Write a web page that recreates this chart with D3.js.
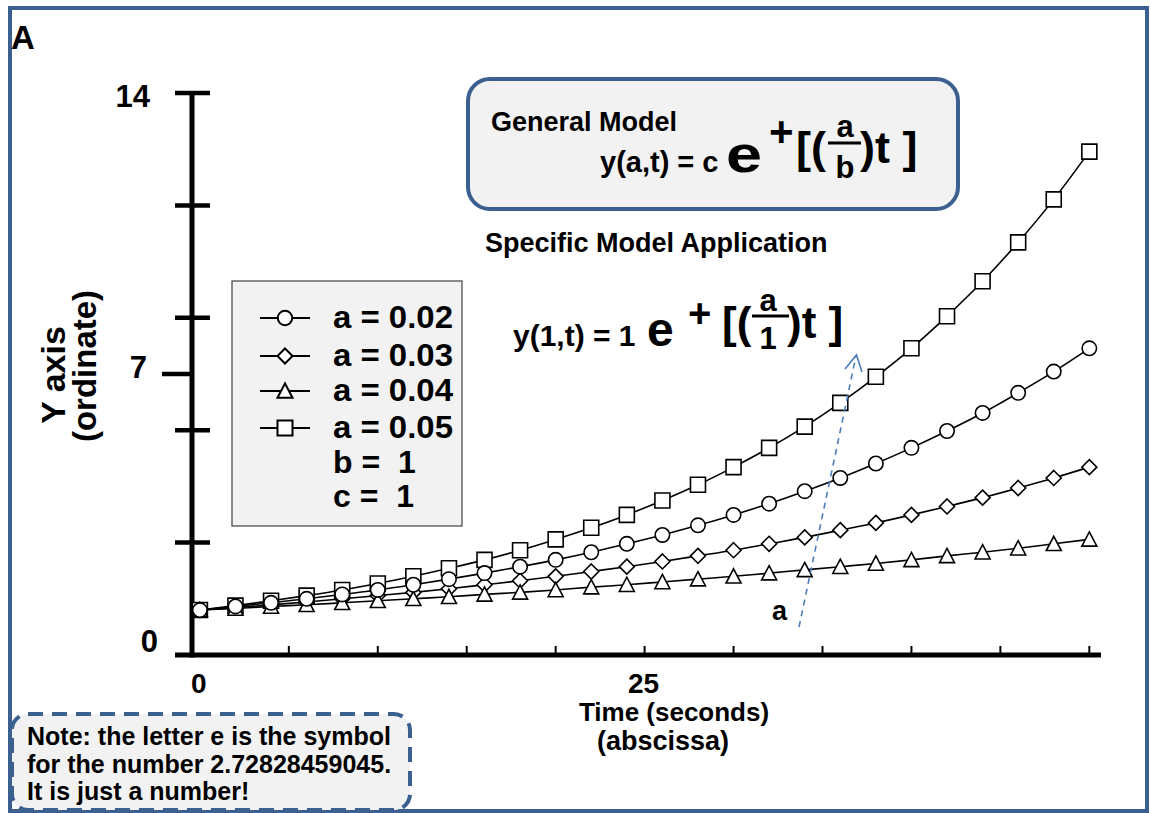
<!DOCTYPE html>
<html>
<head>
<meta charset="utf-8">
<script src="https://cdn.jsdelivr.net/npm/d3@7"></script>
<style>
  html, body { margin: 0; padding: 0; background: #fff; }
  svg { display: block; }
  text { font-family: Arial, "Liberation Sans", sans-serif; font-weight: bold; fill: #000; }
</style>
</head>
<body>
<svg id="chart" width="1151" height="813"></svg>
<script>
// ---------------- data ----------------
const timePoints = [0, 2, 4, 6, 8, 10, 12, 14, 16, 18, 20, 22, 24, 26, 28, 30, 32, 34, 36, 38, 40, 42, 44, 46, 48, 50];

const squareSeries = [1.12, 1.23, 1.35, 1.48, 1.62, 1.78, 1.96, 2.16, 2.37, 2.61, 2.88, 3.17, 3.49, 3.85, 4.24, 4.68, 5.16, 5.69, 6.28, 6.93, 7.64, 8.44, 9.31, 10.28, 11.35, 12.54];
const circleSeries = [1.12, 1.21, 1.30, 1.40, 1.51, 1.62, 1.75, 1.89, 2.04, 2.20, 2.37, 2.56, 2.77, 2.99, 3.23, 3.49, 3.77, 4.08, 4.41, 4.77, 5.16, 5.58, 6.03, 6.53, 7.06, 7.64];
const diamondSeries = [1.12, 1.18, 1.25, 1.32, 1.40, 1.48, 1.56, 1.65, 1.75, 1.85, 1.96, 2.08, 2.20, 2.33, 2.47, 2.61, 2.77, 2.93, 3.11, 3.29, 3.49, 3.70, 3.92, 4.16, 4.41, 4.68];
const triangleSeries = [1.12, 1.16, 1.21, 1.25, 1.30, 1.35, 1.40, 1.45, 1.51, 1.56, 1.62, 1.69, 1.75, 1.82, 1.89, 1.96, 2.04, 2.12, 2.20, 2.28, 2.37, 2.47, 2.56, 2.66, 2.77, 2.88];

const legendLabels = ["a = 0.02", "a = 0.03", "a = 0.04", "a = 0.05"];
const legendShapes = ["circle", "diamond", "triangle", "square"];
const legendExtra = ["b =\u00a0\u00a01", "c =\u00a0\u00a01"];

const yTickLabels = [0, 7, 14];
const yMajorTicks = [0, 2.8, 5.6, 8.4, 11.2, 14];
const xTickValues = [5, 10, 15, 20, 25, 30, 35, 40, 45, 50];
const xTickLabels = [0, 25];

const noteLines = ["Note: the letter e is the symbol", "for the number 2.72828459045.", "It is just a number!"];

// ---------------- setup ----------------
const svg = d3.select("#chart");
const blue = "#3b5f8f";

const x = d3.scaleLinear().domain([-0.5, 50.6]).range([191, 1100]);
const y = d3.scaleLinear().domain([0, 14]).range([655, 93]);

// outer frame
svg.append("rect").attr("x", 10).attr("y", 8).attr("width", 1137).attr("height", 803)
  .attr("fill", "none").attr("stroke", blue).attr("stroke-width", 4);

svg.append("text").attr("x", 11).attr("y", 49).attr("font-size", 33).text("A");

// marker path generator
function markerPath(shape, s) {
  const p = d3.path();
  if (shape === "circle") {
    p.moveTo(s, 0); p.arc(0, 0, s, 0, 2 * Math.PI);
  } else if (shape === "square") {
    p.rect(-s, -s, 2 * s, 2 * s);
  } else if (shape === "diamond") {
    p.moveTo(0, -s); p.lineTo(s, 0); p.lineTo(0, s); p.lineTo(-s, 0); p.closePath();
  } else if (shape === "triangle") {
    p.moveTo(0, -s); p.lineTo(s, s * 0.9); p.lineTo(-s, s * 0.9); p.closePath();
  }
  return p.toString();
}
const markerSize = { circle: 7.2, square: 7.5, diamond: 7.5, triangle: 7.5 };

// ---------------- axes ----------------
const axisG = svg.append("g");
axisG.selectAll(".xt").data(xTickValues).join("line")
  .attr("x1", d => x(d)).attr("x2", d => x(d))
  .attr("y1", y(0) - 9).attr("y2", y(0))
  .attr("stroke", "#000").attr("stroke-width", 2);
axisG.append("line").attr("x1", x(-0.5) + 1).attr("x2", x(-0.5) + 1)
  .attr("y1", y(14) - 2).attr("y2", y(0) + 2.5)
  .attr("stroke", "#000").attr("stroke-width", 5);
axisG.append("line").attr("x1", 175).attr("x2", x(50.6) + 1)
  .attr("y1", y(0)).attr("y2", y(0))
  .attr("stroke", "#000").attr("stroke-width", 5);
axisG.selectAll(".yt").data(yMajorTicks.filter(d => d > 0)).join("line")
  .attr("x1", 175).attr("x2", 210)
  .attr("y1", d => y(d)).attr("y2", d => y(d))
  .attr("stroke", "#000").attr("stroke-width", 4.5);
axisG.append("line").attr("x1", 162).attr("x2", 194)
  .attr("y1", y(7)).attr("y2", y(7))
  .attr("stroke", "#000").attr("stroke-width", 4.5);

const yLabelNudge = { 0: [8, -3], 7: [-3, 4], 14: [0, 14] };
axisG.selectAll(".yl").data(yTickLabels).join("text")
  .attr("x", d => 150 + yLabelNudge[d][0])
  .attr("y", d => y(d) + yLabelNudge[d][1])
  .attr("text-anchor", "end").attr("font-size", 31).text(d => d);

axisG.selectAll(".xl").data(xTickLabels).join("text")
  .attr("x", d => x(d) - 1).attr("y", 693)
  .attr("text-anchor", "middle").attr("font-size", 28).text(d => d);

svg.append("text").attr("x", 674).attr("y", 721).attr("text-anchor", "middle")
  .attr("font-size", 26).text("Time (seconds)");
svg.append("text").attr("x", 663).attr("y", 750).attr("text-anchor", "middle")
  .attr("font-size", 27).text("(abscissa)");

svg.append("text").attr("transform", "translate(65,375) rotate(-90)")
  .attr("text-anchor", "middle").attr("font-size", 34).text("Y axis");
svg.append("text").attr("transform", "translate(96,366) rotate(-90)")
  .attr("text-anchor", "middle").attr("font-size", 33).text("(ordinate)");

// ---------------- series ----------------
const seriesList = [
  { values: squareSeries, shape: "square" },
  { values: diamondSeries, shape: "diamond" },
  { values: triangleSeries, shape: "triangle" },
  { values: circleSeries, shape: "circle" }
];
const line = d3.line().x(d => x(d[0])).y(d => y(d[1])).curve(d3.curveMonotoneX);

seriesList.forEach(s => {
  const pts = timePoints.map((t, i) => [t, s.values[i]]);
  const g = svg.append("g");
  g.append("path").attr("d", line(pts)).attr("fill", "none")
    .attr("stroke", "#000").attr("stroke-width", 1.6);
  g.selectAll("path.m").data(pts).join("path").attr("class", "m")
    .attr("transform", d => `translate(${x(d[0])},${y(d[1])})`)
    .attr("d", markerPath(s.shape, markerSize[s.shape]))
    .attr("fill", "#fff").attr("stroke", "#000").attr("stroke-width", 1.6);
});

// ---------------- arrow "a" ----------------
svg.append("line").attr("x1", 799).attr("y1", 627).attr("x2", 856).attr("y2", 356)
  .attr("stroke", "#4a7ebb").attr("stroke-width", 1.6).attr("stroke-dasharray", "6,5");
svg.append("path").attr("d", "M845,369 L856.5,355 L862,372")
  .attr("fill", "none").attr("stroke", "#4a7ebb").attr("stroke-width", 1.6);
svg.append("text").attr("x", 772).attr("y", 620).attr("font-size", 27).text("a");

// ---------------- legend ----------------
const lg = svg.append("g");
lg.append("rect").attr("x", 232).attr("y", 281).attr("width", 230).attr("height", 245)
  .attr("fill", "#f2f2f2").attr("stroke", "#404040").attr("stroke-width", 1.2);
const rowY = [318, 356, 391, 428];
legendLabels.forEach((lab, i) => {
  lg.append("line").attr("x1", 260).attr("x2", 310).attr("y1", rowY[i]).attr("y2", rowY[i])
    .attr("stroke", "#000").attr("stroke-width", 2.2);
  lg.append("path").attr("transform", `translate(285,${rowY[i]})`)
    .attr("d", markerPath(legendShapes[i], markerSize[legendShapes[i]]))
    .attr("fill", "#fff").attr("stroke", "#000").attr("stroke-width", 2);
  lg.append("text").attr("x", 333).attr("y", rowY[i] + 10).attr("font-size", 32)
    .attr("textLength", 120).attr("lengthAdjust", "spacingAndGlyphs").text(lab);
});
legendExtra.forEach((lab, i) => {
  lg.append("text").attr("x", 333).attr("y", 473 + i * 34).attr("font-size", 32).text(lab);
});

// ---------------- general model box ----------------
const fb = svg.append("g");
fb.append("rect").attr("x", 468).attr("y", 79).attr("width", 490).attr("height", 130)
  .attr("rx", 22).attr("fill", "#f2f2f2").attr("stroke", blue).attr("stroke-width", 4);
fb.append("text").attr("x", 491).attr("y", 131).attr("font-size", 27).text("General Model");
fb.append("text").attr("x", 600).attr("y", 172).attr("font-size", 29).text("y(a,t) = c");
fb.append("text").attr("x", 726).attr("y", 172).attr("font-size", 52)
  .attr("textLength", 36).attr("lengthAdjust", "spacingAndGlyphs").text("e");
fb.append("text").attr("x", 769).attr("y", 146).attr("font-size", 42).text("+");
fb.append("text").attr("x", 796).attr("y", 163).attr("font-size", 45).text("[(");
fb.append("line").attr("x1", 828).attr("x2", 861).attr("y1", 143).attr("y2", 143)
  .attr("stroke", "#000").attr("stroke-width", 3);
fb.append("text").attr("x", 845).attr("y", 137).attr("text-anchor", "middle").attr("font-size", 31).text("a");
fb.append("text").attr("x", 845).attr("y", 178).attr("text-anchor", "middle").attr("font-size", 31).text("b");
fb.append("text").attr("x", 860).attr("y", 163).attr("font-size", 45).text(")t ]");

// ---------------- specific model ----------------
svg.append("text").attr("x", 485).attr("y", 252).attr("font-size", 27).text("Specific Model Application");
svg.append("text").attr("x", 513).attr("y", 346).attr("font-size", 30).text("y(1,t) = 1");
svg.append("text").attr("x", 647).attr("y", 346).attr("font-size", 48).text("e");
svg.append("text").attr("x", 688).attr("y", 327).attr("font-size", 40).text("+");
svg.append("text").attr("x", 722).attr("y", 338).attr("font-size", 44).text("[(");
svg.append("line").attr("x1", 752).attr("x2", 789).attr("y1", 316).attr("y2", 316)
  .attr("stroke", "#000").attr("stroke-width", 3);
svg.append("text").attr("x", 768).attr("y", 311).attr("text-anchor", "middle").attr("font-size", 31).text("a");
svg.append("text").attr("x", 768).attr("y", 349).attr("text-anchor", "middle").attr("font-size", 31).text("1");
svg.append("text").attr("x", 787).attr("y", 338).attr("font-size", 44).text(")t ]");

// ---------------- note box ----------------
const nb = svg.append("g");
nb.append("rect").attr("x", 12).attr("y", 714).attr("width", 398).attr("height", 96)
  .attr("rx", 16).attr("fill", "#f2f2f2").attr("stroke", blue).attr("stroke-width", 4)
  .attr("stroke-dasharray", "15,9");
noteLines.forEach((l, i) => {
  nb.append("text").attr("x", 27).attr("y", 745 + i * 27.5).attr("font-size", 25).text(l);
});
</script>
</body>
</html>
